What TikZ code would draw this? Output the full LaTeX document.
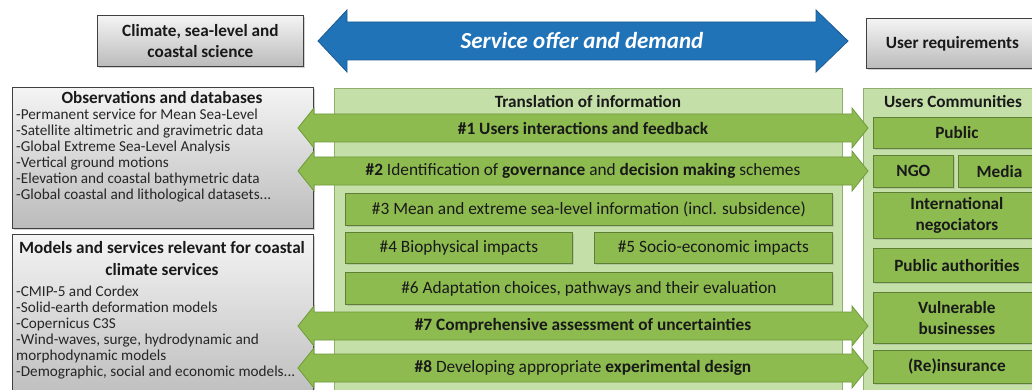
\documentclass[tikz,border=0pt]{standalone}
\usepackage{fontspec}
\setmainfont{Carlito}
\usetikzlibrary{shadows}
\definecolor{panelg}{HTML}{C4DFA8}
\definecolor{panelb}{HTML}{8FAF6E}
\definecolor{boxg}{HTML}{8DBB4F}
\definecolor{boxb}{HTML}{5F7F36}
\definecolor{arrb}{HTML}{6E9A3A}
\definecolor{blueA}{HTML}{2173B8}
\definecolor{blueB}{HTML}{1C5A91}
\definecolor{grayT}{HTML}{F4F4F4}
\definecolor{grayB}{HTML}{BBBBBB}
\definecolor{grayE}{HTML}{404040}
\tikzset{
  base/.style={rectangle, inner sep=0pt, anchor=north west},
  graybox/.style={base, draw=grayE, line width=0.8pt, top color=grayT, bottom color=grayB,
    drop shadow={shadow xshift=2pt, shadow yshift=-2pt, opacity=0.35}},
  panel/.style={base, draw=panelb, line width=0.8pt, fill=panelg},
  gbox/.style={base, draw=boxb, line width=0.8pt, fill=boxg,
    drop shadow={shadow xshift=1.5pt, shadow yshift=-1.5pt, opacity=0.25}},
  garrowst/.style={draw=arrb, line width=0.8pt, fill=boxg},
  bluearrow/.style={draw=blueB, line width=0.8pt, fill=blueA},
  lab/.style={inner sep=0pt, font=\fontsize{17.3}{20}\selectfont, text=black!90},
  blab/.style={lab, font=\fontsize{17.2}{21.5}\selectfont\bfseries, align=center},
  listtxt/.style={inner sep=0pt, anchor=north west, align=left, font=\fontsize{15.2}{16}\selectfont, text=black!85},
  ttl/.style={inner sep=0pt, align=center, font=\fontsize{17.2}{22}\selectfont\bfseries, text=black!90},
}
\newcommand\garrow[1]{%
  \path[garrowst] (298,#1) -- (314,#1-20) -- (314,#1-14) -- (852,#1-14) -- (852,#1-20)
    -- (868,#1) -- (852,#1+20) -- (852,#1+14) -- (314,#1+14) -- (314,#1+20) -- cycle;}
\begin{document}
\begin{tikzpicture}[x=1pt,y=-1pt]
\useasboundingbox (0,0) rectangle (1032,390);
\clip (0,0) rectangle (1032,390);
\fill[white] (0,0) rectangle (1032,390);

% top row
\node[graybox, minimum width=206pt, minimum height=51pt] (climate) at (97,15) {};
\node[ttl, font=\fontsize{17.2}{21}\selectfont\bfseries] (climateT) at (climate.center) {Climate, sea-level and\\coastal science};
\node[graybox, minimum width=172pt, minimum height=50pt] (userreq) at (866,18) {};
\node[ttl] (userreqT) at (userreq.center) {User requirements};

\path[bluearrow] (318,41) -- (347,10) -- (347,22) -- (816,22) -- (816,10) -- (848,41)
  -- (816,72) -- (816,60) -- (347,60) -- (347,72) -- cycle;
\node[inner sep=0pt, text=white, font=\fontsize{23}{26}\selectfont\bfseries\itshape] (service) at (582,41) {Service offer and demand};

% left gray boxes
\node[graybox, minimum width=301pt, minimum height=141pt] (obs) at (12,87) {};
\node[ttl] (obsT) at (162,98) {Observations and databases};
\node[listtxt] (obsL) at (16,109) {-Permanent service for Mean Sea-Level\\
-Satellite altimetric and gravimetric data\\
-Global Extreme Sea-Level Analysis\\
-Vertical ground motions\\
-Elevation and coastal bathymetric data\\
-Global coastal and lithological datasets...};

\node[graybox, minimum width=301pt, minimum height=170pt] (models) at (12,234) {};
\node[ttl] (modT) at (162,259) {Models and services relevant for coastal\\climate services};
\node[listtxt] (modL) at (16,286) {-CMIP-5 and Cordex\\
-Solid-earth deformation models\\
-Copernicus C3S\\
-Wind-waves, surge, hydrodynamic and\\
morphodynamic models\\
-Demographic, social and economic models...};

% panels
\node[panel, minimum width=508pt, minimum height=320pt] (trans) at (334,88) {};
\node[ttl] (transT) at (588,102) {Translation of information};
\node[panel, minimum width=190pt, minimum height=320pt] (users) at (863,88) {};
\node[ttl] (usersT) at (953,102) {Users Communities};

% inner boxes
\node[gbox, minimum width=487pt, minimum height=32pt] (b3) at (345,193) {};
\node[lab] (b3T) at (b3.center) {\#3 Mean and extreme sea-level information (incl. subsidence)};
\node[gbox, minimum width=227pt, minimum height=31pt] (b4) at (345,232) {};
\node[lab] (b4T) at (b4.center) {\#4 Biophysical impacts};
\node[gbox, minimum width=238pt, minimum height=31pt] (b5) at (594,232) {};
\node[lab] (b5T) at (b5.center) {\#5 Socio-economic impacts};
\node[gbox, minimum width=487pt, minimum height=32pt] (b6) at (345,272) {};
\node[lab] (b6T) at (b6.center) {\#6 Adaptation choices, pathways and their evaluation};

% user boxes
\node[gbox, minimum width=167pt, minimum height=31pt] (public) at (873,117) {};
\node[blab] (publicT) at (public.center) {Public};
\node[gbox, minimum width=80pt, minimum height=32pt] (ngo) at (873,155) {};
\node[blab] (ngoT) at (ngo.center) {NGO};
\node[gbox, minimum width=82pt, minimum height=32pt] (media) at (958,155) {};
\node[blab] (mediaT) at (media.center) {Media};
\node[gbox, minimum width=167pt, minimum height=46pt] (intl) at (873,192) {};
\node[blab] (intlT) at (intl.center) {International\\negociators};
\node[gbox, minimum width=167pt, minimum height=34pt] (pubauth) at (873,248) {};
\node[blab] (pubauthT) at (pubauth.center) {Public authorities};
\node[gbox, minimum width=167pt, minimum height=51pt] (vuln) at (873,292) {};
\node[blab] (vulnT) at (vuln.center) {Vulnerable\\businesses};
\node[gbox, minimum width=167pt, minimum height=33pt] (reins) at (873,350) {};
\node[blab] (reinsT) at (reins.center) {(Re)insurance};

% green double arrows
\garrow{128}
\node[lab, font=\fontsize{17.3}{20}\selectfont\bfseries] (a1) at (583,128) {\#1 Users interactions and feedback};
\garrow{171}
\node[lab] (a2) at (583,171) {\textbf{\#2} Identification of \textbf{governance} and \textbf{decision making} schemes};
\garrow{326}
\node[lab, font=\fontsize{17.3}{20}\selectfont\bfseries] (a7) at (583,326) {\#7 Comprehensive assessment of uncertainties};
\garrow{368}
\node[lab] (a8) at (583,368) {\textbf{\#8} Developing appropriate \textbf{experimental design}};
\end{tikzpicture}
\end{document}
